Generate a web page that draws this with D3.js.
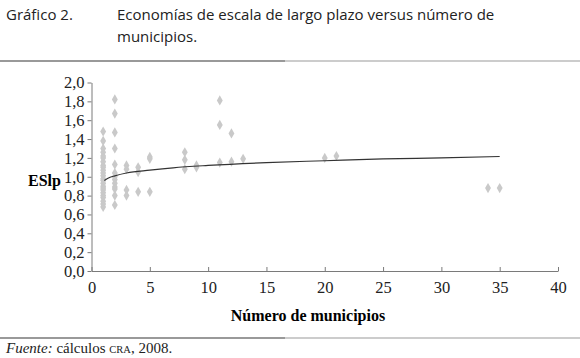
<!DOCTYPE html>
<head>
  <meta charset="utf-8">
  <title>Gráfico 2</title>
  <script src="https://d3js.org/d3.v7.min.js"></script>
  <style>
    body { margin: 0; background: #fff; }
    .axis path, .axis line { stroke: #7a7a7a; }
    .axis text { font-family: "Liberation Serif", serif; font-size: 16.5px; fill: #222; }
    .dot { fill: #c9c9c9; }
    .trend { fill: none; stroke: #333; stroke-width: 1.2; }
  </style>
</head>
<body>
  <svg width="580" height="358"></svg>
  <script>
    // municipios (x) and ESlp (y) for each point
    const pointsX = [
      1,1,1,1,1,1,1,1,1,1,1,1,1,1,1,1,1,1,1,1,1,1,1,1,
      2,2,2,2,2,2,2,2,2,2,2,2,2,
      3,3,3,3,
      4,4,4,
      5,5,5,
      8,8,8,
      9,9,
      11,11,11,
      12,12,
      13,
      20,21,
      34,35
    ];
    const pointsY = [
      1.48,1.38,1.30,1.26,1.22,1.20,1.16,1.12,1.10,1.07,1.04,1.01,0.98,0.96,0.93,0.90,0.88,0.86,0.83,0.80,0.78,0.74,0.71,0.68,
      1.82,1.67,1.47,1.30,1.13,1.04,1.00,0.97,0.93,0.89,0.87,0.80,0.70,
      1.12,1.08,0.86,0.80,
      1.10,1.05,0.84,
      1.21,1.19,0.84,
      1.26,1.18,1.08,
      1.12,1.10,
      1.81,1.55,1.15,
      1.46,1.16,
      1.19,
      1.20,1.22,
      0.88,0.88
    ];
    // trend line
    const trendX = [1.1, 1.5, 2, 3, 5, 7, 10, 15, 20, 25, 30, 35];
    const trendY = [0.96, 0.99, 1.01, 1.04, 1.07, 1.095, 1.12, 1.15, 1.17, 1.19, 1.20, 1.215];

    const xTicks = [0, 5, 10, 15, 20, 25, 30, 35, 40];
    const yTicks = [0, 0.2, 0.4, 0.6, 0.8, 1.0, 1.2, 1.4, 1.6, 1.8, 2.0];

    const svg = d3.select("svg");
    const fmt = d => d3.format(".1f")(d).replace(".", ",");

    const x = d3.scaleLinear().domain([0, 40]).range([91.5, 558]);
    const y = d3.scaleLinear().domain([0, 2]).range([271, 82.5]);

    // title
    const title = svg.append("g")
      .style("font-family", "'Open Sans', sans-serif")
      .style("font-size", "15px")
      .style("fill", "#222");
    title.append("text").attr("x", 6).attr("y", 20).text("Gráfico 2.");
    title.append("text").attr("x", 117).attr("y", 20)
      .text("Economías de escala de largo plazo versus número de");
    title.append("text").attr("x", 117).attr("y", 42).text("municipios.");

    // rules
    [61, 338].forEach(ry => {
      svg.append("line").attr("x1", 0).attr("x2", 580).attr("y1", ry).attr("y2", ry)
        .attr("stroke", "#999").attr("stroke-width", 1.2);
      svg.append("line").attr("x1", 0).attr("x2", 285).attr("y1", ry).attr("y2", ry)
        .attr("stroke", "#666").attr("stroke-width", 1.2);
    });

    // axes
    svg.append("g")
      .attr("class", "axis")
      .attr("transform", "translate(0,271)")
      .call(d3.axisBottom(x).tickValues(xTicks).tickSize(-4).tickPadding(7).tickSizeOuter(0))
      .selectAll("text").attr("dy", "0.9em");

    svg.append("g")
      .attr("class", "axis")
      .attr("transform", "translate(91.5,0)")
      .call(d3.axisLeft(y).tickValues(yTicks).tickFormat(fmt).tickSize(4).tickPadding(3).tickSizeOuter(0));

    // axis titles
    svg.append("text")
      .attr("x", 28).attr("y", 186)
      .style("font-family", "'Liberation Serif', serif")
      .style("font-weight", "bold").style("font-size", "16px")
      .text("ESlp");
    svg.append("text")
      .attr("x", 308).attr("y", 321)
      .attr("text-anchor", "middle")
      .style("font-family", "'Liberation Serif', serif")
      .style("font-weight", "bold").style("font-size", "16px")
      .text("Número de municipios");

    // points
    svg.append("g").selectAll("path")
      .data(d3.range(pointsX.length))
      .enter().append("path")
      .attr("class", "dot")
      .attr("transform", i => `translate(${x(pointsX[i])},${y(pointsY[i])})`)
      .attr("d", d3.symbol().type(d3.symbolDiamond).size(30));

    // trend
    const line = d3.line()
      .x(i => x(trendX[i]))
      .y(i => y(trendY[i]))
      .curve(d3.curveMonotoneX);
    svg.append("path")
      .attr("class", "trend")
      .attr("d", line(d3.range(trendX.length)));

    // source
    const src = svg.append("text")
      .attr("x", 6).attr("y", 353)
      .style("font-family", "'Liberation Serif', serif")
      .style("font-size", "15px")
      .style("fill", "#222");
    src.append("tspan").style("font-style", "italic").text("Fuente:");
    src.append("tspan").text(" cálculos ");
    src.append("tspan").style("font-size", "10.5px").text("CRA");
    src.append("tspan").text(", 2008.");
  </script>
</body>
